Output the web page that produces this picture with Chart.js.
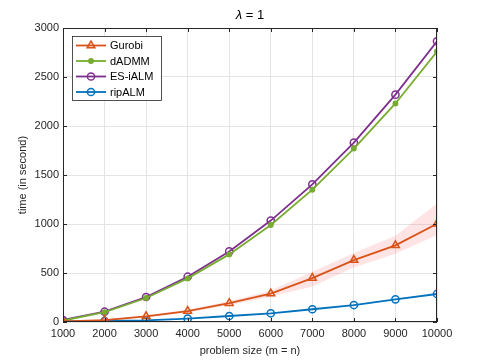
<!DOCTYPE html>
<html lang="en">
<head>
    <meta charset="UTF-8">
    <title>lambda = 1</title>
    <style>
        body { margin: 0; background: #fff; }
        #wrap { width: 483px; height: 362px; }
    </style>
</head>
<body>
    <div id="wrap"><canvas id="chart" width="483" height="362"></canvas></div>

    <script src="https://cdn.jsdelivr.net/npm/chart.js"></script>
    <script>
        const sizes = [1000, 2000, 3000, 4000, 5000, 6000, 7000, 8000, 9000, 10000];
        const gurobi = [5, 20, 58, 112, 192, 290, 448, 632, 782, 1003];
        const gurobiLow = [3, 15, 48, 98, 172, 258, 362, 556, 696, 888];
        const gurobiHigh = [7, 25, 68, 126, 212, 322, 512, 704, 880, 1210];
        const dadmm = [15, 100, 245, 445, 690, 990, 1350, 1770, 2230, 2760];
        const esialm = [20, 105, 255, 462, 720, 1035, 1405, 1830, 2320, 2865];
        const ripalm = [5, 10, 16, 34, 61, 89, 130, 173, 231, 286];
        const yTicks = [0, 500, 1000, 1500, 2000, 2500, 3000];

        const font = 'Liberation Sans, Arial, sans-serif';
        const xy = arr => arr.map((v, i) => ({ x: sizes[i], y: v }));

        const frame = {
            id: 'frame',
            afterDatasetsDraw(chart) {
                const { ctx, chartArea: a, scales } = chart;
                ctx.save();
                ctx.strokeStyle = '#262626';
                ctx.lineWidth = 1;
                ctx.strokeRect(a.left + 0.5, a.top + 0.5, a.right - a.left - 1, a.bottom - a.top - 1);
                // inward ticks
                scales.x.ticks.forEach(t => {
                    const px = Math.round(scales.x.getPixelForValue(t.value)) + 0.5;
                    ctx.beginPath();
                    ctx.moveTo(px, a.bottom); ctx.lineTo(px, a.bottom - 4);
                    ctx.moveTo(px, a.top); ctx.lineTo(px, a.top + 4);
                    ctx.stroke();
                });
                scales.y.ticks.forEach(t => {
                    const py = Math.round(scales.y.getPixelForValue(t.value)) + 0.5;
                    ctx.beginPath();
                    ctx.moveTo(a.left, py); ctx.lineTo(a.left + 4, py);
                    ctx.moveTo(a.right, py); ctx.lineTo(a.right - 4, py);
                    ctx.stroke();
                });
                // title
                ctx.fillStyle = '#000';
                ctx.textBaseline = 'middle';
                const cx = (a.left + a.right) / 2;
                ctx.font = 'italic 13px ' + font;
                const w1 = ctx.measureText('\u03bb').width;
                ctx.font = '13px ' + font;
                const rest = ' = 1';
                const w2 = ctx.measureText(rest).width;
                const sx = cx - (w1 + w2) / 2;
                ctx.font = 'italic 13px ' + font;
                ctx.textAlign = 'left';
                ctx.fillText('\u03bb', sx, 15);
                ctx.font = '13px ' + font;
                ctx.fillText(rest, sx + w1, 15);
                ctx.restore();
            }
        };

        const legendBox = {
            id: 'legendBox',
            afterDraw(chart) {
                const { ctx } = chart;
                const items = chart.data.datasets.filter(d => d.inLegend);
                const bx = 72, by = 36, bw = 89, bh = 64;
                ctx.save();
                ctx.fillStyle = '#fff';
                ctx.fillRect(bx, by, bw, bh);
                ctx.strokeStyle = '#262626';
                ctx.lineWidth = 0.8;
                ctx.strokeRect(bx + 0.5, by + 0.5, bw, bh);
                items.forEach((d, i) => {
                    const y = by + 9.5 + i * 15.5;
                    ctx.strokeStyle = d.borderColor;
                    ctx.lineWidth = d.borderWidth;
                    ctx.beginPath();
                    ctx.moveTo(bx + 4, y); ctx.lineTo(bx + 34, y);
                    ctx.stroke();
                    ctx.lineWidth = d.pointBorderWidth;
                    ctx.fillStyle = d.pointBackgroundColor;
                    ctx.strokeStyle = d.borderColor;
                    Chart.helpers.drawPoint(ctx, {
                        pointStyle: d.pointStyle, radius: d.pointRadius, borderWidth: d.pointBorderWidth
                    }, bx + 19, y);
                    ctx.fillStyle = '#000';
                    ctx.font = '11px ' + font;
                    ctx.textAlign = 'left';
                    ctx.textBaseline = 'middle';
                    ctx.fillText(d.label, bx + 38, y + 0.5);
                });
                ctx.restore();
            }
        };

        const line = (label, data, color, style, radius, fillPt) => ({
            label, data: xy(data), inLegend: true,
            borderColor: color, borderWidth: 1.8,
            pointStyle: style, pointRadius: radius,
            pointBorderColor: color, pointBorderWidth: 1.5,
            pointBackgroundColor: fillPt ? color : 'rgba(0,0,0,0)',
            tension: 0, order: 1
        });

        new Chart(document.getElementById('chart'), {
            type: 'line',
            data: {
                datasets: [
                    { label: 'band-hi', data: xy(gurobiHigh), borderWidth: 0, pointRadius: 0,
                      backgroundColor: 'rgba(250, 120, 120, 0.2)', fill: '+1', order: 10 },
                    { label: 'band-lo', data: xy(gurobiLow), borderWidth: 0, pointRadius: 0,
                      backgroundColor: 'rgba(250, 120, 120, 0.2)', fill: false, order: 10 },
                    line('Gurobi', gurobi, '#D95319', 'triangle', 4.5, false),
                    line('dADMM', dadmm, '#77AC30', 'circle', 2.2, true),
                    line('ES-iALM', esialm, '#7E2F8E', 'circle', 3.6, false),
                    line('ripALM', ripalm, '#0072BD', 'circle', 3.6, false)
                ]
            },
            options: {
                responsive: false,
                animation: false,
                layout: { padding: { top: 28, right: 46, left: 16, bottom: 0 } },
                plugins: {
                    legend: { display: false },
                    tooltip: { enabled: false },
                    title: { display: false }
                },
                scales: {
                    x: {
                        type: 'linear', min: 1000, max: 10000,
                        afterBuildTicks: s => { s.ticks = sizes.map(v => ({ value: v })); },
                        afterFit: s => { s.height = 40; },
                        border: { display: false },
                        grid: { color: '#e4e4e4', drawTicks: false },
                        ticks: { color: '#262626', padding: 5, maxRotation: 0,
                                 callback: v => String(v),
                                 font: { family: font, size: 11 } },
                        title: { display: true, text: 'problem size (m = n)', color: '#262626',
                                 padding: { top: 1 }, font: { family: font, size: 11 } }
                    },
                    y: {
                        min: 0, max: 3000,
                        afterBuildTicks: s => { s.ticks = yTicks.map(v => ({ value: v })); },
                        afterFit: s => { s.width = 47; },
                        border: { display: false },
                        grid: { color: '#e4e4e4', drawTicks: false },
                        ticks: { color: '#262626', padding: 4,
                                 callback: v => String(v),
                                 font: { family: font, size: 11 } },
                        title: { display: true, text: 'time (in second)', color: '#262626',
                                 padding: { top: 0, bottom: 0 }, font: { family: font, size: 11 } }
                    }
                }
            },
            plugins: [frame, legendBox]
        });
    </script>
</body>
</html>
